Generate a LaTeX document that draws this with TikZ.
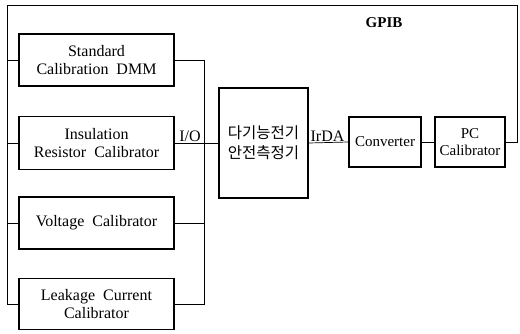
\documentclass[tikz,border=0pt]{standalone}
\usepackage{fontspec}
\setmainfont{Liberation Serif}
\newfontfamily\kofont{Noto Sans CJK KR}
\usetikzlibrary{positioning}

\begin{document}
\begin{tikzpicture}[x=1pt, y=-1pt, line width=0.7pt,
    every node/.style={font=\fontsize{16}{18}\selectfont},
    devbox/.style={draw, line width=1.4pt, align=center, inner sep=1pt},
    lbl/.style={inner sep=1pt}]
  \useasboundingbox (0,0) rectangle (520,333);
  \coordinate (lbus) at (7,5);
  \coordinate (rbus) at (204,5);
  \coordinate (gtop) at (517,5);
  \node[devbox, minimum width=155pt, minimum height=52pt] (std) at (96.5,60) {Standard\\Calibration\ \ DMM};
  \node[devbox, minimum width=155pt, minimum height=53pt] (ins) at (96.5,143) {Insulation\\Resistor\ \ Calibrator};
  \node[devbox, minimum width=155pt, minimum height=52pt] (volt) at (96.5,223) {Voltage\ \ Calibrator};
  \node[devbox, minimum width=155pt, minimum height=51pt] (leak) at (96.5,304) {Leakage\ \ Current\\Calibrator};
  \node[devbox, minimum width=89pt, minimum height=110pt, font=\kofont\fontsize{15.5}{20}\selectfont] (main) at (263.5,143) {다기능전기\\안전측정기};
  \node[devbox, minimum width=72pt, minimum height=50pt, font=\fontsize{15}{17}\selectfont] (conv) at (385,142) {Converter};
  \node[devbox, minimum width=70pt, minimum height=50pt, font=\fontsize{15}{17}\selectfont] (pc) at (470,142) {PC\\Calibrator};
  \draw (ins.east) -- (main.west) node[lbl, pos=0.35, above] {I/O};
  \draw (main.east) -- (conv.west) node[lbl, midway, above, xshift=-1pt] {IrDA};
  \draw (conv.east) -- (pc.east -| pc.west);
  \draw (pc.east) -| (gtop) -- (lbus) |- (leak.west);
  \draw (std.west) -- (std.west -| lbus);
  \draw (ins.west) -- (ins.west -| lbus);
  \draw (volt.west) -- (volt.west -| lbus);
  \draw (std.east) -- (std.east -| rbus) -- (leak.east -| rbus) -- (leak.east);
  \draw (volt.east) -- (volt.east -| rbus);
  \node[lbl, font=\bfseries\fontsize{15}{17}\selectfont] (gpib) at (384,23) {GPIB};
\end{tikzpicture}
\end{document}
